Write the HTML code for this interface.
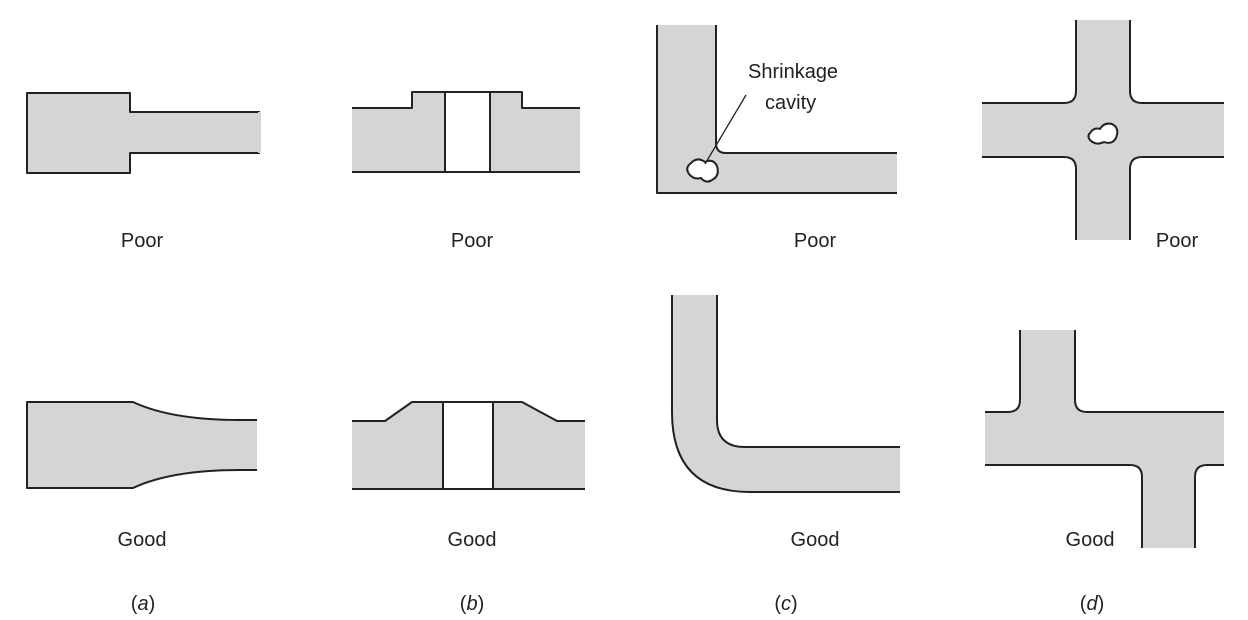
<!DOCTYPE html>
<html><head><style>
html,body{margin:0;padding:0;background:#fff;}
svg{display:block;}
text{font-family:"Liberation Sans",sans-serif;font-size:20px;fill:#222;}
</style></head><body>
<svg width="1248" height="620" viewBox="0 0 1248 620" xmlns="http://www.w3.org/2000/svg">
<g fill="#d4d5d7" stroke="#222" stroke-width="2" stroke-linejoin="round">
<!-- (a) poor -->
<path d="M260 112 H130 V93 H27 V173 H130 V153 H260" />
<rect x="258" y="112" width="3" height="41" stroke="none"/>
<!-- (b) poor -->
<path d="M352 108 H412 V92 H522 V108 H580 V172 H352 Z" stroke="none"/>
<path d="M352 108 H412 V92 H522 V108 H580 M352 172 H580" fill="none"/>
<rect x="445" y="92" width="45" height="80" fill="#fff"/>
<!-- (c) poor -->
<path d="M657 25 H716 V143 Q716 153 726 153 H897 V193 H657 Z" stroke="none"/>
<path d="M657 25 V193 H897 M716 25 V143 Q716 153 726 153 H897" fill="none"/>
<path d="M690 164 Q697 156 705 162 Q713 158 717 166 Q720 176 712 180 Q706 184 701 178 Q694 180 689 174 Q685 168 690 164 Z" fill="#fff"/>
<line x1="746" y1="95" x2="705" y2="164" stroke-width="1.3"/>
<!-- (d) poor cross -->
<path d="M1076 20 H1130 V91 Q1130 103 1142 103 H1224 V157 H1142 Q1130 157 1130 169 V240 H1076 V169 Q1076 157 1064 157 H982 V103 H1064 Q1076 103 1076 91 Z" stroke="none"/>
<path d="M1076 20 V91 Q1076 103 1064 103 H982 M1130 20 V91 Q1130 103 1142 103 H1224 M982 157 H1064 Q1076 157 1076 169 V240 M1224 157 H1142 Q1130 157 1130 169 V240" fill="none"/>
<path d="M1090 133 Q1094 127 1100 129 Q1104 122 1112 124 Q1120 128 1116 138 Q1112 145 1104 142 Q1096 146 1090 140 Q1087 136 1090 133 Z" fill="#fff"/>
<!-- (a) good -->
<path d="M257 420 H240 C180 420 150 410 133 402 H27 V488 H133 C150 480 180 470 240 470 H257 Z" stroke="none"/>
<path d="M257 420 H240 C180 420 150 410 133 402 H27 V488 H133 C150 480 180 470 240 470 H257" fill="none"/>
<!-- (b) good -->
<path d="M352 421 H385 L412 402 H522 L557 421 H585 V489 H352 Z" stroke="none"/>
<path d="M352 421 H385 L412 402 H522 L557 421 H585 M352 489 H585" fill="none"/>
<rect x="443" y="402" width="50" height="87" fill="#fff"/>
<!-- (c) good -->
<path d="M672 295 H717 V420 Q717 447 745 447 H900 V492 H750 Q672 492 672 412 Z" stroke="none"/>
<path d="M672 295 V412 Q672 492 750 492 H900 M717 295 V420 Q717 447 745 447 H900" fill="none"/>
<!-- (d) good -->
<path d="M1020 330 H1075 V400 Q1075 412 1087 412 H1224 V465 H1207 Q1195 465 1195 477 V548 H1142 V477 Q1142 465 1130 465 H985 V412 H1008 Q1020 412 1020 400 Z" stroke="none"/>
<path d="M1020 330 V400 Q1020 412 1008 412 H985 M1075 330 V400 Q1075 412 1087 412 H1224 M985 465 H1130 Q1142 465 1142 477 V548 M1224 465 H1207 Q1195 465 1195 477 V548" fill="none"/>
</g>
<text x="748" y="78">Shrinkage</text>
<text x="765" y="109">cavity</text>
<g text-anchor="middle">
<text x="142" y="247">Poor</text>
<text x="472" y="247">Poor</text>
<text x="815" y="247">Poor</text>
<text x="1177" y="247">Poor</text>
<text x="142" y="546">Good</text>
<text x="472" y="546">Good</text>
<text x="815" y="546">Good</text>
<text x="1090" y="546">Good</text>
<text x="143" y="610">(<tspan font-style="italic">a</tspan>)</text>
<text x="472" y="610">(<tspan font-style="italic">b</tspan>)</text>
<text x="786" y="610">(<tspan font-style="italic">c</tspan>)</text>
<text x="1092" y="610">(<tspan font-style="italic">d</tspan>)</text>
</g>
</svg>
</body></html>
